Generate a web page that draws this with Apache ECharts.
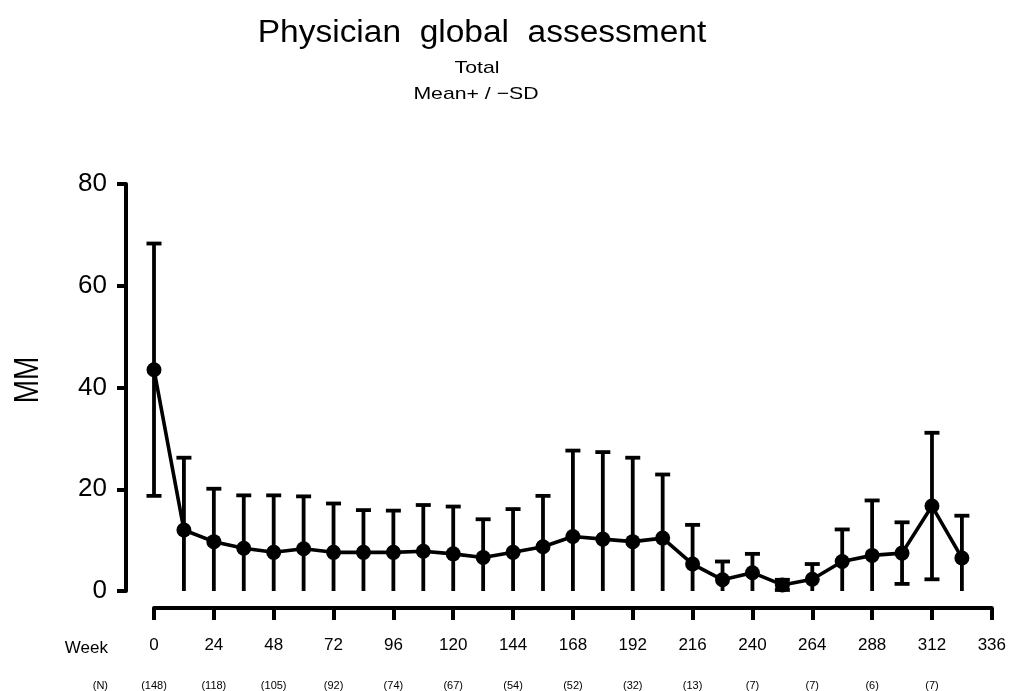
<!DOCTYPE html>
<html>
<head>
<meta charset="utf-8">
<script src="https://cdn.jsdelivr.net/npm/echarts@6/dist/echarts.min.js"></script>
<style>
  html, body { margin: 0; padding: 0; background: #fff; }
  #chart { width: 1009px; height: 691px; }
</style>
</head>
<body>
<div id="chart"></div>
<script>
// Visit weeks, mean score and standard deviation at each visit
const weeks = [0, 12, 24, 36, 48, 60, 72, 84, 96, 108, 120, 132, 144, 156, 168, 180, 192, 204, 216, 228, 240, 252, 264, 276, 288, 300, 312, 324];
const means = [43.5, 12.0, 9.7, 8.4, 7.6, 8.3, 7.6, 7.6, 7.6, 7.8, 7.3, 6.6, 7.6, 8.7, 10.7, 10.2, 9.7, 10.4, 5.3, 2.2, 3.6, 1.2, 2.3, 5.8, 7.0, 7.45, 16.7, 6.5];
const sds   = [24.8, 14.2, 10.4, 10.4, 11.2, 10.3, 9.6, 8.3, 8.2, 9.1, 9.3, 7.5, 8.5, 10.0, 16.9, 17.1, 16.5, 12.5, 7.7, 3.6, 3.7, 1.0, 3.0, 6.3, 10.8, 6.05, 14.4, 8.3];

// Tick weeks on the x axis and number of patients under each
const weekTicks = [0, 24, 48, 72, 96, 120, 144, 168, 192, 216, 240, 264, 288, 312, 336];
const nCounts = ['(148)', '(118)', '(105)', '(92)', '(74)', '(67)', '(54)', '(52)', '(32)', '(13)', '(7)', '(7)', '(6)', '(7)', ''];
const yTicks = [0, 20, 40, 60, 80];

const FONT = '"Liberation Sans", Arial, Helvetica, sans-serif';
const INK = '#000';

const meanData = weeks.map((w, i) => [w, means[i]]);
const barData = weeks.map((w, i) => [w, means[i] - sds[i], means[i] + sds[i]]);

const chart = echarts.init(document.getElementById('chart'), null, { renderer: 'canvas' });

// Vertical SD whisker with caps; the lower whisker stops at the axis floor without a cap
function renderErrorBar(params, api) {
  const x = api.value(0);
  const lo = api.value(1);
  const hi = api.value(2);
  const clipped = lo < 0;
  const pLo = api.coord([x, Math.max(lo, 0)]);
  const pHi = api.coord([x, hi]);
  const half = 7.5;
  const style = { stroke: INK, lineWidth: 3.8 };
  const children = [
    { type: 'line', shape: { x1: pHi[0], y1: pHi[1], x2: pLo[0], y2: pLo[1] }, style },
    { type: 'line', shape: { x1: pHi[0] - half, y1: pHi[1], x2: pHi[0] + half, y2: pHi[1] }, style }
  ];
  if (!clipped) {
    children.push({ type: 'line', shape: { x1: pLo[0] - half, y1: pLo[1], x2: pLo[0] + half, y2: pLo[1] }, style });
  }
  return { type: 'group', children };
}

const option = {
  backgroundColor: '#fff',
  animation: false,
  textStyle: { fontFamily: FONT, color: INK },
  grid: { left: 154, right: 17, top: 184, bottom: 98 },
  graphic: [
    { type: 'text', x: 482, y: 33, scaleX: 1.08, style: { text: 'Physician  global  assessment', font: '31px ' + FONT, fill: INK, align: 'center', verticalAlign: 'middle' } },
    { type: 'text', x: 477, y: 68, scaleX: 1.25, style: { text: 'Total', font: '17px ' + FONT, fill: INK, align: 'center', verticalAlign: 'middle' } },
    { type: 'text', x: 476, y: 94, scaleX: 1.25, style: { text: 'Mean+ / −SD', font: '17px ' + FONT, fill: INK, align: 'center', verticalAlign: 'middle' } },
    { type: 'text', x: 28, y: 380, rotation: Math.PI / 2, scaleY: 1.25, style: { text: 'MM', font: '28px ' + FONT, fill: INK, align: 'center', verticalAlign: 'middle' } },
    { type: 'text', x: 108, y: 648, style: { text: 'Week', font: '17px ' + FONT, fill: INK, align: 'right', verticalAlign: 'middle' } },
    { type: 'text', x: 108, y: 686, style: { text: '(N)', font: '11px ' + FONT, fill: INK, align: 'right', verticalAlign: 'middle' } }
  ],
  xAxis: [
    {
      type: 'value',
      min: 0, max: 336, interval: 24,
      position: 'bottom',
      offset: 17,
      splitLine: { show: false },
      axisLine: { show: true, onZero: false, lineStyle: { color: INK, width: 4 } },
      axisTick: { show: true, length: 12, lineStyle: { color: INK, width: 4 } },
      axisLabel: {
        margin: 29, fontSize: 17, color: INK, fontFamily: FONT,
        formatter: v => weekTicks.indexOf(v) >= 0 ? String(v) : ''
      }
    },
    {
      type: 'value',
      min: 0, max: 336, interval: 24,
      position: 'bottom',
      offset: 17,
      splitLine: { show: false },
      axisLine: { show: false, onZero: false },
      axisTick: { show: false },
      axisLabel: {
        margin: 72, fontSize: 11, color: INK, fontFamily: FONT,
        formatter: v => { const i = weekTicks.indexOf(v); return i >= 0 ? nCounts[i] : ''; }
      }
    }
  ],
  yAxis: {
    type: 'value',
    min: yTicks[0], max: yTicks[yTicks.length - 1], interval: 20,
    position: 'left',
    offset: 28,
    splitLine: { show: false },
    axisLine: { show: true, onZero: false, lineStyle: { color: INK, width: 4 } },
    axisTick: { show: true, length: 9, lineStyle: { color: INK, width: 4 } },
    axisLabel: { margin: 19, fontSize: 26, color: INK, fontFamily: FONT }
  },
  series: [
    {
      type: 'custom',
      renderItem: renderErrorBar,
      data: barData,
      encode: { x: 0, y: [1, 2] },
      clip: false,
      z: 2
    },
    {
      type: 'line',
      data: meanData,
      symbol: 'circle',
      symbolSize: 15,
      lineStyle: { color: INK, width: 3.6 },
      itemStyle: { color: INK },
      z: 3
    }
  ]
};

chart.setOption(option);
</script>
</body>
</html>
